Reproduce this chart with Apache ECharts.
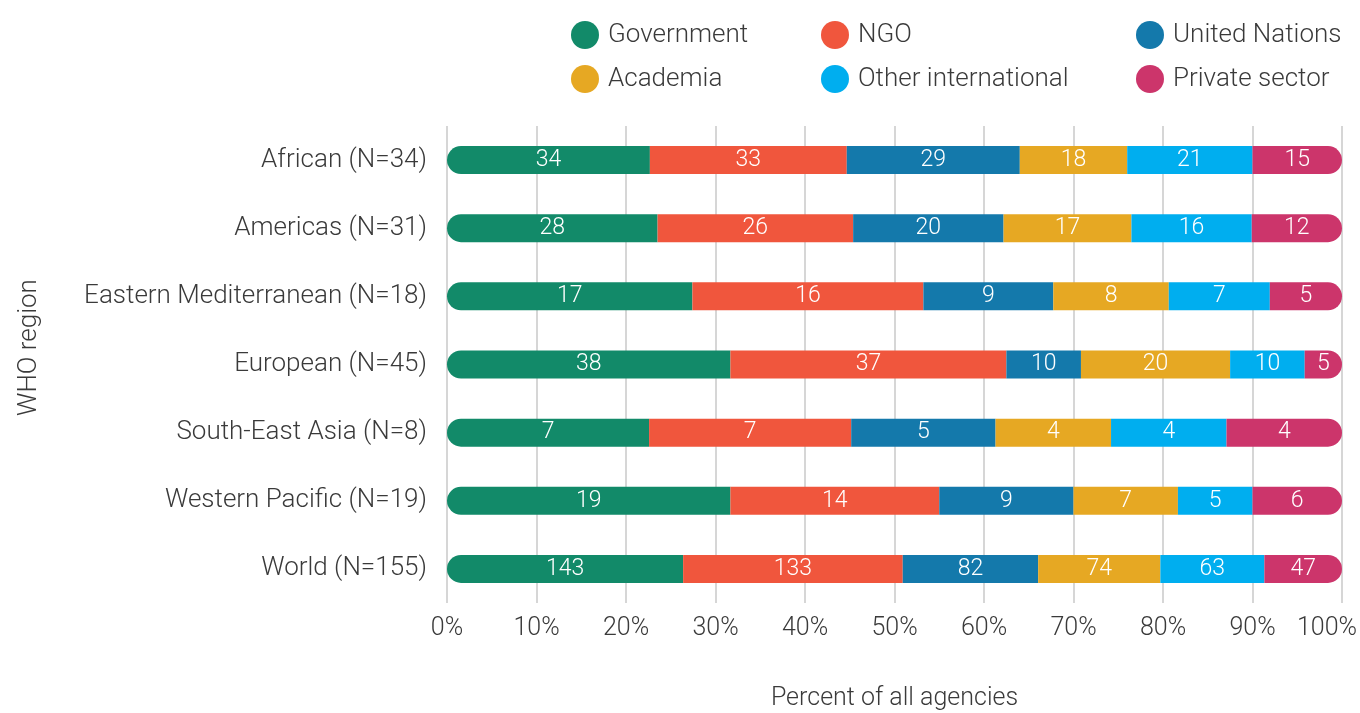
<!DOCTYPE html>
<html>
<head>
<meta charset="utf-8">
<script src="https://cdn.jsdelivr.net/npm/echarts@6/dist/echarts.min.js"></script>
<style>
  html, body { margin: 0; padding: 0; background: #fff; }
  #chart { width: 1360px; height: 713px; }
</style>
</head>
<body>
<div id="chart"></div>
<script>
// Regions (top to bottom)
const regions = [
    'African (N=34)',
    'Americas (N=31)',
    'Eastern Mediterranean (N=18)',
    'European (N=45)',
    'South-East Asia (N=8)',
    'Western Pacific (N=19)',
    'World (N=155)'
];

// Agency counts per type, one value per region
const government   = [34, 28, 17, 38, 7, 19, 143];
const ngo          = [33, 26, 16, 37, 7, 14, 133];
const unitedNations = [29, 20, 9, 10, 5, 9, 82];
const academia     = [18, 17, 8, 20, 4, 7, 74];
const otherIntl    = [21, 16, 7, 10, 4, 5, 63];
const privateSector = [15, 12, 5, 5, 4, 6, 47];

const xTicks = [0, 10, 20, 30, 40, 50, 60, 70, 80, 90, 100];

const groups = [
    { name: 'Government', counts: government, color: '#128a69' },
    { name: 'NGO', counts: ngo, color: '#f0563d' },
    { name: 'United Nations', counts: unitedNations, color: '#1479ab' },
    { name: 'Academia', counts: academia, color: '#e6a823' },
    { name: 'Other international', counts: otherIntl, color: '#00aeef' },
    { name: 'Private sector', counts: privateSector, color: '#cc356b' }
];

const FONT = "Roboto, 'Noto Sans', sans-serif";
const TEXT = '#3a3a3a';

// row totals used to turn counts into shares
const totals = regions.map((_, i) => groups.reduce((s, g) => s + g.counts[i], 0));

const chart = echarts.init(document.getElementById('chart'));

// one legend per item so the columns line up like the original
const legendPos = [
    { left: 566, top: 16 }, { left: 816, top: 16 }, { left: 1131, top: 16 },
    { left: 566, top: 60 }, { left: 816, top: 60 }, { left: 1131, top: 60 }
];
const legends = groups.map((g, i) => ({
    data: [g.name],
    left: legendPos[i].left,
    top: legendPos[i].top,
    icon: 'circle',
    itemWidth: 28,
    itemHeight: 28,
    itemGap: 0,
    selectedMode: false,
    textStyle: { fontFamily: FONT, fontWeight: 300, fontSize: 26, color: TEXT, padding: [0, 0, 0, 4] }
}));

const last = groups.length - 1;
const series = groups.map((g, gi) => ({
    name: g.name,
    type: 'bar',
    stack: 'total',
    barWidth: 28,
    itemStyle: {
        color: g.color,
        borderRadius: gi === 0 ? [14, 0, 0, 14] : (gi === last ? [0, 14, 14, 0] : 0)
    },
    label: {
        show: true,
        position: 'inside',
        color: '#fff',
        fontFamily: FONT,
        fontWeight: 300,
        fontSize: 23,
        formatter: p => g.counts[p.dataIndex]
    },
    emphasis: { disabled: true },
    data: g.counts.map((v, i) => v / totals[i] * 100)
}));

chart.setOption({
    animation: false,
    legend: legends,
    grid: { left: 447, right: 18, top: 126, bottom: 110, containLabel: false, outerBoundsMode: 'none' },
    xAxis: {
        type: 'value',
        min: xTicks[0],
        max: xTicks[xTicks.length - 1],
        interval: 10,
        name: 'Percent of all agencies',
        nameLocation: 'middle',
        nameGap: 83,
        nameTextStyle: { fontFamily: FONT, fontWeight: 300, fontSize: 25, color: TEXT },
        axisLine: { show: false },
        axisTick: { show: false },
        axisLabel: {
            // last label is nudged left so it stays on the page
            formatter: v => v === 100 ? '{last|' + v + '%}' : v + '%',
            rich: { last: { padding: [0, 30, 0, 0], fontFamily: FONT, fontWeight: 300, fontSize: 25, color: TEXT } },
            margin: 13,
            fontFamily: FONT, fontWeight: 300, fontSize: 25, color: TEXT
        },
        splitLine: { show: true, lineStyle: { color: '#c8c8c8', width: 1.5 } }
    },
    yAxis: {
        type: 'category',
        inverse: true,
        data: regions,
        name: 'WHO region',
        nameLocation: 'middle',
        nameGap: 405,
        nameTextStyle: { fontFamily: FONT, fontWeight: 300, fontSize: 26, color: TEXT, padding: [0, 0, 0, 34] },
        axisLine: { show: false },
        axisTick: { show: false },
        axisLabel: { margin: 20, fontFamily: FONT, fontWeight: 300, fontSize: 26, color: TEXT }
    },
    series: series
});
</script>
</body>
</html>
